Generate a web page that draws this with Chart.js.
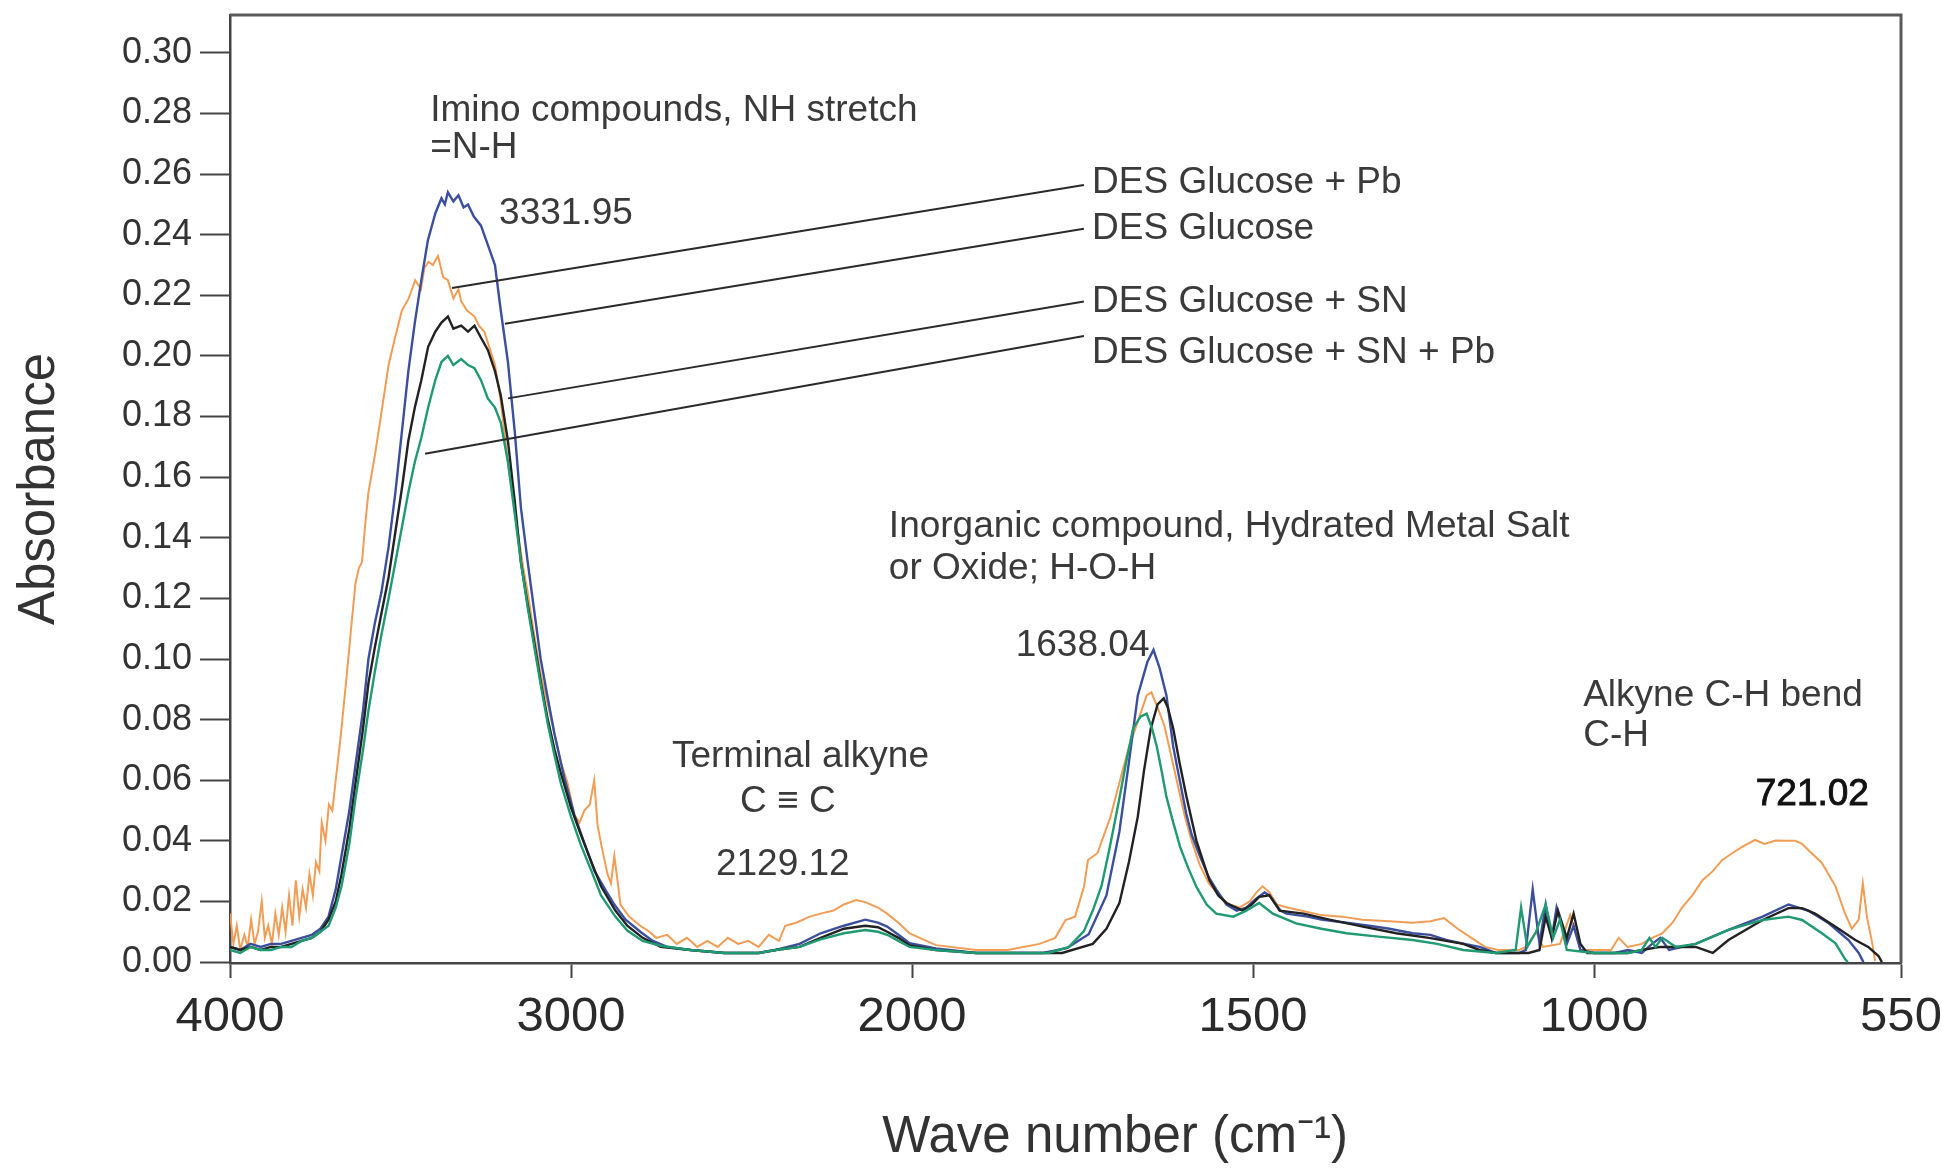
<!DOCTYPE html>
<html>
<head>
<meta charset="utf-8">
<title>FTIR - DES Glucose</title>
<script src="https://cdn.jsdelivr.net/npm/chart.js@4.4.1/dist/chart.umd.min.js"></script>
<style>
    html, body { margin: 0; padding: 0; background: #fff; }
</style>
</head>
<body>
<canvas id="ftir_chart" width="1942" height="1169"></canvas>
<script>
// tick labels
var waveTicks = [4000, 3000, 2000, 1500, 1000, 550];
var absTicks = [0, 0.02, 0.04, 0.06, 0.08, 0.10, 0.12, 0.14, 0.16, 0.18, 0.20, 0.22, 0.24, 0.26, 0.28, 0.30];

// [wave number, absorbance]
var desGlucoseSnPb = [
    [4000,0.004],[3970,0.003],[3940,0.005],[3910,0.004],[3880,0.004],[3850,0.005],[3820,0.005],[3790,0.007],[3760,0.008],[3735,0.010],
    [3711,0.012],[3690,0.018],[3673,0.025],[3650,0.039],[3632,0.054],[3610,0.070],[3594,0.083],[3575,0.096],[3556,0.108],[3535,0.120],
    [3515,0.132],[3495,0.144],[3477,0.155],[3458,0.165],[3439,0.173],[3419,0.183],[3398,0.192],[3380,0.198],[3361,0.200],[3345,0.197],
    [3322,0.199],[3302,0.197],[3283,0.196],[3264,0.192],[3244,0.186],[3223,0.183],[3206,0.178],[3185,0.165],[3165,0.148],[3147,0.132],
    [3127,0.117],[3107,0.1035],[3088,0.091],[3068,0.0785],[3048,0.068],[3029,0.0586],[3000,0.048],[2971,0.0386],[2940,0.030],[2912,0.022],
    [2870,0.015],[2835,0.0104],[2790,0.007],[2737,0.0054],[2650,0.004],[2550,0.003],[2450,0.003],[2400,0.004],[2330,0.005],[2268,0.0075],
    [2200,0.0095],[2137,0.0106],[2100,0.010],[2073,0.009],[2040,0.007],[2007,0.005],[1965,0.004],[1906,0.003],[1800,0.003],[1770,0.005],
    [1748,0.0102],[1735,0.017],[1722,0.0253],[1710,0.038],[1696,0.054],[1686,0.066],[1676,0.077],[1665,0.081],[1656,0.082],[1648,0.077],
    [1641,0.071],[1634,0.063],[1627,0.0545],[1617,0.046],[1607,0.038],[1595,0.031],[1583,0.0248],[1568,0.019],[1554,0.016],[1529,0.015],
    [1510,0.017],[1491,0.0195],[1471,0.016],[1437,0.0128],[1400,0.011],[1363,0.0095],[1320,0.0085],[1266,0.0073],[1230,0.006],[1192,0.004],
    [1144,0.003],[1115,0.004],[1107,0.018],[1098,0.005],[1085,0.010],[1071,0.019],[1060,0.008],[1050,0.014],[1040,0.004],[1000,0.003],
    [950,0.003],[930,0.004],[919,0.008],[910,0.005],[900,0.008],[880,0.005],[851,0.006],[803,0.0106],[753,0.0139],[715,0.015],
    [695,0.0139],[666,0.0095],[646,0.0062],[632,0.001],[628,0]
];
var desGlucoseSn = [
    [4000,0.005],[3970,0.004],[3940,0.005],[3910,0.004],[3880,0.005],[3850,0.005],[3820,0.006],[3790,0.007],[3760,0.008],[3735,0.010],
    [3711,0.014],[3690,0.020],[3673,0.029],[3650,0.044],[3632,0.059],[3610,0.077],[3594,0.092],[3575,0.104],[3556,0.115],[3535,0.127],
    [3515,0.142],[3495,0.157],[3477,0.172],[3458,0.183],[3439,0.192],[3419,0.203],[3398,0.208],[3380,0.211],[3361,0.213],[3345,0.209],
    [3322,0.210],[3302,0.208],[3283,0.210],[3264,0.206],[3244,0.202],[3223,0.195],[3206,0.187],[3185,0.172],[3165,0.152],[3147,0.132],
    [3127,0.118],[3107,0.105],[3088,0.092],[3068,0.080],[3048,0.070],[3029,0.062],[3000,0.051],[2971,0.042],[2940,0.033],[2912,0.025],
    [2870,0.017],[2835,0.012],[2790,0.008],[2737,0.005],[2650,0.004],[2550,0.003],[2450,0.003],[2400,0.004],[2330,0.005],[2268,0.008],
    [2200,0.011],[2137,0.012],[2100,0.0115],[2073,0.010],[2040,0.008],[2007,0.0055],[1965,0.004],[1906,0.003],[1780,0.003],[1735,0.006],
    [1715,0.011],[1696,0.0195],[1682,0.033],[1669,0.048],[1660,0.063],[1650,0.077],[1640,0.085],[1631,0.087],[1625,0.084],[1617,0.077],
    [1608,0.066],[1598,0.055],[1590,0.047],[1583,0.040],[1564,0.027],[1551,0.022],[1539,0.0195],[1515,0.017],[1502,0.019],[1491,0.0215],
    [1476,0.022],[1461,0.017],[1426,0.016],[1388,0.014],[1339,0.0117],[1290,0.0095],[1242,0.008],[1192,0.006],[1168,0.004],[1144,0.003],
    [1096,0.003],[1080,0.004],[1071,0.015],[1062,0.008],[1053,0.017],[1040,0.008],[1030,0.016],[1020,0.006],[1010,0.003],[980,0.003],
    [951,0.003],[930,0.004],[903,0.005],[871,0.005],[851,0.005],[826,0.003],[803,0.0073],[753,0.0139],[715,0.0178],[695,0.0178],
    [676,0.016],[646,0.0117],[617,0.0073],[598,0.005],[583,0.002],[578,0]
];
var desGlucose = [
    [4000,0.005],[3970,0.004],[3940,0.006],[3910,0.005],[3880,0.006],[3850,0.006],[3820,0.007],[3790,0.008],[3760,0.009],[3735,0.011],
    [3711,0.015],[3690,0.024],[3673,0.035],[3650,0.050],[3632,0.065],[3610,0.083],[3594,0.100],[3575,0.112],[3556,0.122],[3535,0.137],
    [3515,0.155],[3495,0.176],[3477,0.195],[3458,0.211],[3439,0.225],[3420,0.238],[3398,0.247],[3380,0.252],[3370,0.250],[3361,0.254],
    [3345,0.251],[3330,0.253],[3315,0.249],[3302,0.250],[3285,0.246],[3264,0.243],[3245,0.237],[3223,0.230],[3206,0.215],[3185,0.198],
    [3165,0.175],[3147,0.150],[3127,0.132],[3108,0.116],[3089,0.100],[3068,0.087],[3048,0.075],[3020,0.061],[2990,0.0485],[2960,0.039],
    [2931,0.030],[2900,0.024],[2873,0.019],[2840,0.014],[2797,0.010],[2760,0.007],[2718,0.005],[2650,0.004],[2550,0.003],[2450,0.003],
    [2400,0.004],[2330,0.006],[2268,0.0095],[2200,0.012],[2137,0.014],[2100,0.013],[2073,0.0117],[2040,0.009],[2007,0.0062],[1965,0.0045],
    [1906,0.003],[1808,0.003],[1773,0.0046],[1741,0.0092],[1715,0.022],[1696,0.043],[1682,0.066],[1669,0.088],[1655,0.099],[1646,0.103],
    [1637,0.097],[1627,0.088],[1617,0.071],[1611,0.064],[1598,0.049],[1590,0.042],[1578,0.035],[1565,0.028],[1554,0.024],[1539,0.019],
    [1524,0.017],[1510,0.018],[1495,0.021],[1483,0.023],[1476,0.022],[1460,0.017],[1451,0.016],[1420,0.015],[1400,0.014],[1363,0.013],
    [1330,0.012],[1300,0.011],[1266,0.0095],[1240,0.009],[1217,0.0073],[1190,0.006],[1168,0.005],[1144,0.003],[1110,0.003],[1100,0.004],
    [1090,0.024],[1080,0.006],[1071,0.019],[1062,0.008],[1055,0.018],[1040,0.006],[1030,0.012],[1020,0.004],[1000,0.003],[970,0.003],
    [950,0.004],[930,0.003],[915,0.006],[903,0.008],[890,0.004],[871,0.005],[851,0.006],[803,0.0106],[753,0.015],[715,0.019],
    [686,0.017],[656,0.0128],[627,0.0073],[612,0.003],[605,0]
];
var desGlucosePb = [
    [4000,0.016],[3990,0.006],[3980,0.012],[3970,0.004],[3958,0.009],[3948,0.005],[3938,0.014],[3928,0.006],[3918,0.010],[3907,0.020],
    [3898,0.008],[3888,0.012],[3877,0.006],[3867,0.016],[3857,0.009],[3847,0.018],[3837,0.010],[3827,0.022],[3817,0.012],[3807,0.027],
    [3797,0.015],[3787,0.024],[3777,0.018],[3767,0.029],[3757,0.022],[3748,0.033],[3738,0.030],[3731,0.046],[3720,0.040],[3710,0.052],
    [3700,0.050],[3690,0.060],[3675,0.075],[3660,0.092],[3645,0.110],[3632,0.125],[3622,0.130],[3613,0.132],[3603,0.145],[3594,0.155],
    [3574,0.168],[3555,0.182],[3535,0.197],[3516,0.206],[3496,0.215],[3476,0.219],[3457,0.225],[3440,0.222],[3430,0.229],[3418,0.231],
    [3405,0.230],[3390,0.233],[3375,0.226],[3361,0.225],[3345,0.219],[3330,0.222],[3322,0.218],[3305,0.215],[3283,0.213],[3270,0.210],
    [3254,0.208],[3240,0.203],[3223,0.197],[3206,0.185],[3185,0.165],[3170,0.152],[3156,0.142],[3140,0.130],[3127,0.122],[3108,0.108],
    [3089,0.095],[3068,0.085],[3048,0.075],[3030,0.066],[3010,0.059],[2990,0.0485],[2975,0.046],[2961,0.050],[2945,0.052],[2932,0.060],
    [2922,0.045],[2910,0.038],[2893,0.029],[2883,0.026],[2873,0.035],[2865,0.028],[2855,0.019],[2830,0.015],[2797,0.012],[2770,0.010],
    [2750,0.008],[2718,0.009],[2690,0.006],[2660,0.008],[2630,0.005],[2600,0.007],[2570,0.005],[2540,0.008],[2510,0.006],[2480,0.007],
    [2450,0.005],[2420,0.009],[2390,0.007],[2372,0.012],[2340,0.013],[2300,0.015],[2268,0.016],[2230,0.017],[2200,0.019],[2164,0.0205],
    [2137,0.0198],[2100,0.018],[2073,0.016],[2040,0.013],[2007,0.0095],[1965,0.0056],[1906,0.004],[1860,0.004],[1813,0.006],[1790,0.008],
    [1775,0.0139],[1761,0.015],[1748,0.0248],[1742,0.0337],[1728,0.036],[1709,0.048],[1695,0.060],[1682,0.071],[1668,0.080],[1656,0.088],
    [1649,0.089],[1640,0.084],[1630,0.078],[1620,0.068],[1610,0.058],[1600,0.048],[1590,0.040],[1578,0.032],[1565,0.026],[1550,0.022],
    [1535,0.019],[1520,0.018],[1505,0.020],[1495,0.023],[1486,0.025],[1476,0.023],[1465,0.019],[1450,0.018],[1430,0.017],[1400,0.0155],
    [1370,0.015],[1340,0.014],[1300,0.0135],[1266,0.013],[1240,0.0135],[1220,0.0145],[1200,0.011],[1180,0.008],[1160,0.005],[1140,0.004],
    [1110,0.004],[1100,0.005],[1085,0.010],[1075,0.005],[1050,0.006],[1035,0.0155],[1020,0.004],[990,0.004],[975,0.004],[964,0.008],
    [951,0.005],[930,0.006],[915,0.008],[900,0.0095],[885,0.013],[871,0.018],[856,0.022],[841,0.027],[826,0.030],[812,0.0337],
    [797,0.036],[783,0.038],[764,0.0403],[750,0.039],[734,0.0401],[720,0.040],[705,0.040],[695,0.039],[686,0.037],[666,0.0327],
    [646,0.025],[632,0.016],[622,0.011],[612,0.014],[606,0.026],[600,0.015],[592,0.006],[588,0.0003]
];

// text notes on the plot, anchored in wave number / absorbance
var notes = [
    { text: 'Imino compounds, NH stretch', wave: 3413, abs: 0.281 },
    { text: '=N-H', wave: 3413, abs: 0.2686 },
    { text: '3331.95', wave: 3211, abs: 0.247 },
    { text: 'DES Glucose + Pb', wave: 1736, abs: 0.257 },
    { text: 'DES Glucose', wave: 1736, abs: 0.242 },
    { text: 'DES Glucose + SN', wave: 1736, abs: 0.218 },
    { text: 'DES Glucose + SN + Pb', wave: 1736, abs: 0.201 },
    { text: 'Terminal alkyne', wave: 2704, abs: 0.0677 },
    { text: 'C \u2261 C', wave: 2364, abs: 0.053, align: 'center' },
    { text: '2129.12', wave: 2575, abs: 0.032 },
    { text: 'Inorganic compound, Hydrated Metal Salt', wave: 2068, abs: 0.1436 },
    { text: 'or Oxide; H-O-H', wave: 2068, abs: 0.1297 },
    { text: '1638.04', wave: 1848, abs: 0.1043 },
    { text: 'Alkyne C-H bend', wave: 1016, abs: 0.0878 },
    { text: 'C-H', wave: 1016, abs: 0.0746 },
    { text: '721.02', wave: 763, abs: 0.0551, strong: true }
];
// leader lines from series names to curves: [wave, abs] -> [wave, abs]
var leaders = [
    [[1748, 0.2564], [3349, 0.2224]],
    [[1748, 0.2420], [3194, 0.2106]],
    [[1748, 0.2180], [3185, 0.1860]],
    [[1748, 0.2066], [3428, 0.1677]]
];

// the axis is 2x expanded below 2000 cm-1
function wavePos(w) {
    return w >= 2000 ? (4000 - w) / 2 : 1000 + (2000 - w);
}
function toXY(pts) {
    return pts.map(function (p) { return { x: wavePos(p[0]), y: p[1] }; });
}

// use a narrow face for the axis numbers when one is installed
function hasFont(name) {
    var c = document.createElement('canvas').getContext('2d');
    c.font = '40px monospace';
    var a = c.measureText('4000 Wave number').width;
    c.font = '40px "' + name + '", monospace';
    return c.measureText('4000 Wave number').width !== a;
}
var textFont = '"Liberation Sans", Arial, sans-serif';
var narrowOk = hasFont('Liberation Sans Narrow');
var narrowFont = narrowOk ? '"Liberation Sans Narrow", ' + textFont : textFont;

function noPadding(scale) {
    scale.paddingLeft = 0;
    scale.paddingRight = 0;
    scale.paddingTop = 0;
    scale.paddingBottom = 0;
}

var notesPlugin = {
    id: 'ftirNotes',
    afterDraw: function (chart) {
        var ctx = chart.ctx;
        var xs = chart.scales.x, ys = chart.scales.y;
        var area = chart.chartArea;
        ctx.save();
        // frame top / right
        ctx.strokeStyle = '#5a5a5a';
        ctx.lineWidth = 3;
        ctx.beginPath();
        ctx.moveTo(area.left, area.top);
        ctx.lineTo(area.right, area.top);
        ctx.lineTo(area.right, area.bottom);
        ctx.stroke();

        ctx.strokeStyle = '#2a2a2a';
        ctx.lineWidth = 2;
        leaders.forEach(function (l) {
            ctx.beginPath();
            ctx.moveTo(xs.getPixelForValue(wavePos(l[0][0])), ys.getPixelForValue(l[0][1]));
            ctx.lineTo(xs.getPixelForValue(wavePos(l[1][0])), ys.getPixelForValue(l[1][1]));
            ctx.stroke();
        });

        ctx.textBaseline = 'middle';
        notes.forEach(function (n) {
            var x = xs.getPixelForValue(wavePos(n.wave));
            var y = ys.getPixelForValue(n.abs);
            ctx.font = '37px ' + textFont;
            ctx.textAlign = n.align || 'left';
            ctx.fillStyle = n.strong ? '#111' : '#3a3a3a';
            ctx.fillText(n.text, x, y);
            if (n.strong) {
                ctx.strokeStyle = '#111';
                ctx.lineWidth = 0.9;
                ctx.strokeText(n.text, x, y);
            }
        });
        ctx.restore();
    }
};

var ctx_ftir = document.getElementById('ftir_chart').getContext('2d');

var ftirChart = new Chart(ctx_ftir, {
    type: 'line',
    data: {
        datasets: [
            { label: 'DES Glucose + SN + Pb', data: toXY(desGlucoseSnPb), borderColor: '#1f9a72', borderWidth: 2.4 },
            { label: 'DES Glucose + SN', data: toXY(desGlucoseSn), borderColor: '#222222', borderWidth: 2.4 },
            { label: 'DES Glucose', data: toXY(desGlucose), borderColor: '#3b4f9e', borderWidth: 2.4 },
            { label: 'DES Glucose + Pb', data: toXY(desGlucosePb), borderColor: '#f19d55', borderWidth: 2 }
        ]
    },
    options: {
        responsive: false,
        animation: false,
        events: [],
        elements: { point: { radius: 0 }, line: { tension: 0 } },
        layout: { autoPadding: false, padding: { top: 15, right: 41, bottom: 0, left: 0 } },
        plugins: { legend: { display: false }, tooltip: { enabled: false } },
        scales: {
            x: {
                type: 'linear',
                min: wavePos(4000),
                max: wavePos(550),
                afterFit: function (scale) { scale.height = 206; noPadding(scale); },
                afterBuildTicks: function (scale) {
                    scale.ticks = waveTicks.map(function (w) { return { value: wavePos(w) }; });
                },
                border: { color: '#444', width: 2.5 },
                grid: { drawOnChartArea: false, tickLength: 15, tickColor: '#444', tickWidth: 2 },
                ticks: {
                    autoSkip: false,
                    maxRotation: 0,
                    padding: 10,
                    color: '#2a2a2a',
                    font: { family: narrowFont, size: narrowOk ? 56 : 49 },
                    callback: function (value, index) { return String(waveTicks[index]); }
                },
                title: {
                    display: true,
                    text: '\u00A0\u00A0\u00A0\u00A0\u00A0\u00A0\u00A0Wave number (cm\u207B\u00B9)',
                    color: '#333',
                    font: { family: narrowFont, size: narrowOk ? 60 : 51 },
                    padding: { top: 0, bottom: 0 }
                }
            },
            y: {
                min: -0.0003,
                max: 0.3125,
                afterFit: function (scale) { scale.width = 230; noPadding(scale); },
                afterBuildTicks: function (scale) {
                    scale.ticks = absTicks.map(function (v) { return { value: v }; });
                },
                border: { color: '#444', width: 2.5 },
                grid: { drawOnChartArea: false, tickLength: 30, tickColor: '#444', tickWidth: 2 },
                ticks: {
                    padding: 8,
                    color: '#333',
                    font: { family: textFont, size: 36 },
                    callback: function (value) { return value.toFixed(2); }
                },
                title: {
                    display: true,
                    text: 'Absorbance',
                    color: '#333',
                    font: { family: textFont, size: 51 },
                    padding: { top: 9, bottom: 0 }
                }
            }
        }
    },
    plugins: [notesPlugin]
});
</script>
</body>
</html>
